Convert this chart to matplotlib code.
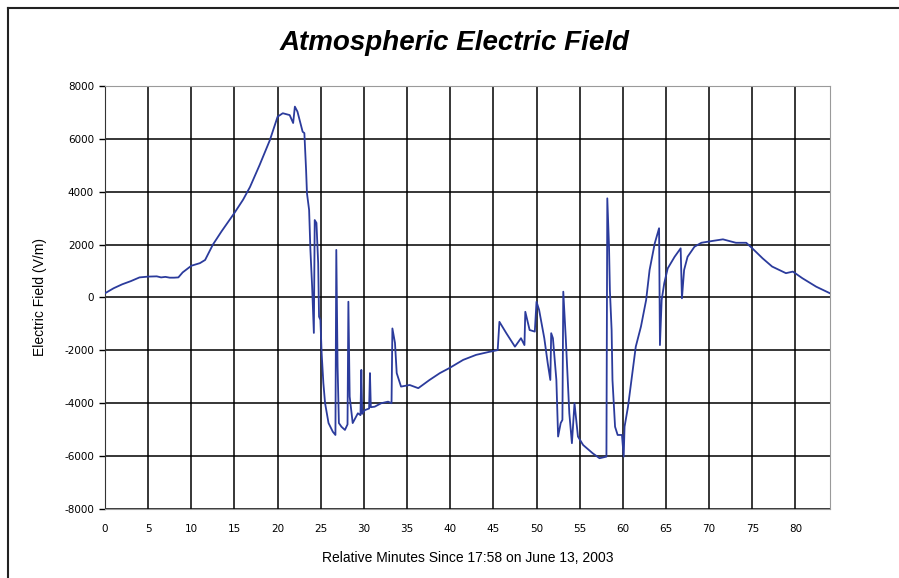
import matplotlib.pyplot as plt
from matplotlib.lines import Line2D

plt.rcParams['axes.unicode_minus'] = False

# data
minutes = [0.0, 1.0, 2.0, 3.0, 4.0, 5.0, 6.0, 6.5, 7.0, 7.5, 8.0, 8.5, 9.0, 10.0,
           11.0, 11.6, 12.5, 13.5, 15.0, 16.0, 16.8, 17.9, 19.1, 20.0, 20.6,
           21.4, 21.8, 22.0, 22.3, 22.9, 23.1, 23.3, 23.4, 23.65, 23.8, 24.0,
           24.2, 24.3, 24.5, 24.7, 24.8, 24.96, 25.1, 25.3, 25.5, 25.9, 26.4,
           26.7, 26.8, 26.95, 27.1, 27.4, 27.8, 28.1, 28.2, 28.35, 28.7, 29.3,
           29.6, 29.7, 29.8, 30.1, 30.6, 30.7, 30.8, 31.25, 32.0, 32.8, 33.2,
           33.3, 33.6, 33.8, 34.3, 35.3, 36.3, 37.6, 38.8, 39.9, 41.5, 43.0,
           44.6, 45.5, 45.7, 46.5, 47.5, 48.2, 48.6, 48.7, 49.2, 49.8, 50.0,
           50.3, 50.9, 51.3, 51.6, 51.7, 51.9, 52.3, 52.5, 52.8, 53.0, 53.1,
           53.4, 53.8, 54.1, 54.4, 54.8, 55.4, 56.5, 57.3, 58.1, 58.2, 58.4,
           58.5, 58.7, 58.8, 59.1, 59.4, 59.9, 60.1, 60.2, 60.6, 61.2, 61.5,
           62.1, 62.7, 63.1, 63.7, 64.2, 64.3, 64.5, 64.8, 65.2, 66.0, 66.7,
           66.85, 67.1, 67.5, 68.3, 69.1, 70.4, 71.6, 73.1, 74.3, 75.0, 76.2,
           77.3, 78.9, 79.7, 80.8, 82.4, 84.0]
field_vm = [160, 350, 500, 620, 760, 790, 800, 760, 780, 750, 750, 760, 950, 1200,
            1300, 1420, 2000, 2500, 3200, 3700, 4180, 5000, 5950, 6840, 6970,
            6900, 6600, 7220, 7030, 6270, 6220, 4820, 3950, 3310, 1800, 410,
            -1340, 2930, 2820, 1300, -725, -850, -2100, -3230, -4000, -4750, -5080,
            -5200, 1800, -2620, -4750, -4890, -5010, -4800, -160, -3750, -4750, -4380,
            -4450, -2740, -4400, -4260, -4200, -2860, -4150, -4130, -4000, -3940, -4000,
            -1170, -1720, -2860, -3370, -3310, -3430, -3120, -2860, -2670, -2360, -2170,
            -2050, -1990, -920, -1350, -1860, -1540, -1800, -540, -1230, -1290, -160,
            -470, -1540, -2490, -3120, -1350, -1540, -3120, -5260, -4750, -4630, 220,
            -1610, -4380, -5510, -4000, -5260, -5580, -5890, -6080, -6020, 3750, 1920,
            280, -1230, -3120, -4890, -5200, -5200, -6020, -4890, -4130, -2620, -1860,
            -1100, -95, 1040, 2050, 2620, -1800, -95, 540, 1100, 1540, 1860,
            -30, 1040, 1540, 1920, 2070, 2140, 2200, 2070, 2070, 1860, 1480,
            1170, 920, 980, 730, 410, 160]

x_ticks = list(range(0, 85, 5))
y_ticks = list(range(-8000, 8001, 2000))

fig = plt.figure(figsize=(8.99, 5.78), dpi=100)
ax = fig.add_axes([0.1168, 0.1194, 0.8064, 0.7318])

ax.plot(minutes, field_vm, color='#2b3b9c', linewidth=1.3, zorder=3)

ax.set_xlim(0, 84)
ax.set_ylim(-8000, 8000)
ax.set_xticks(x_ticks)
ax.set_yticks(y_ticks)
ax.grid(True, color='black', linewidth=1.1)
ax.set_axisbelow(True)

for side in ['top', 'right', 'bottom']:
    ax.spines[side].set_color('#9a9a9a')
ax.spines['left'].set_color('#333333')

ax.tick_params(axis='x', length=0, pad=11, labelsize=7.5)
ax.tick_params(axis='y', length=4, width=1, pad=4, labelsize=7.5)

ax.set_xlabel('Relative Minutes Since 17:58 on June 13, 2003',
              fontsize=10, family='Liberation Sans', labelpad=12)
ax.set_ylabel('Electric Field (V/m)', fontsize=10, family='Liberation Sans', labelpad=12)

fig.text(0.506, 0.925, 'Atmospheric Electric Field', ha='center', va='center',
         fontsize=20, fontweight='bold', fontstyle='italic', family='Liberation Sans')

# outer frame (left and top only)
fig.add_artist(Line2D([0.009, 0.009], [0.0, 0.986], color='#222222', linewidth=1.5))
fig.add_artist(Line2D([0.009, 1.0], [0.986, 0.986], color='#222222', linewidth=1.5))

fig.savefig('out.png', dpi=100, facecolor='white')
